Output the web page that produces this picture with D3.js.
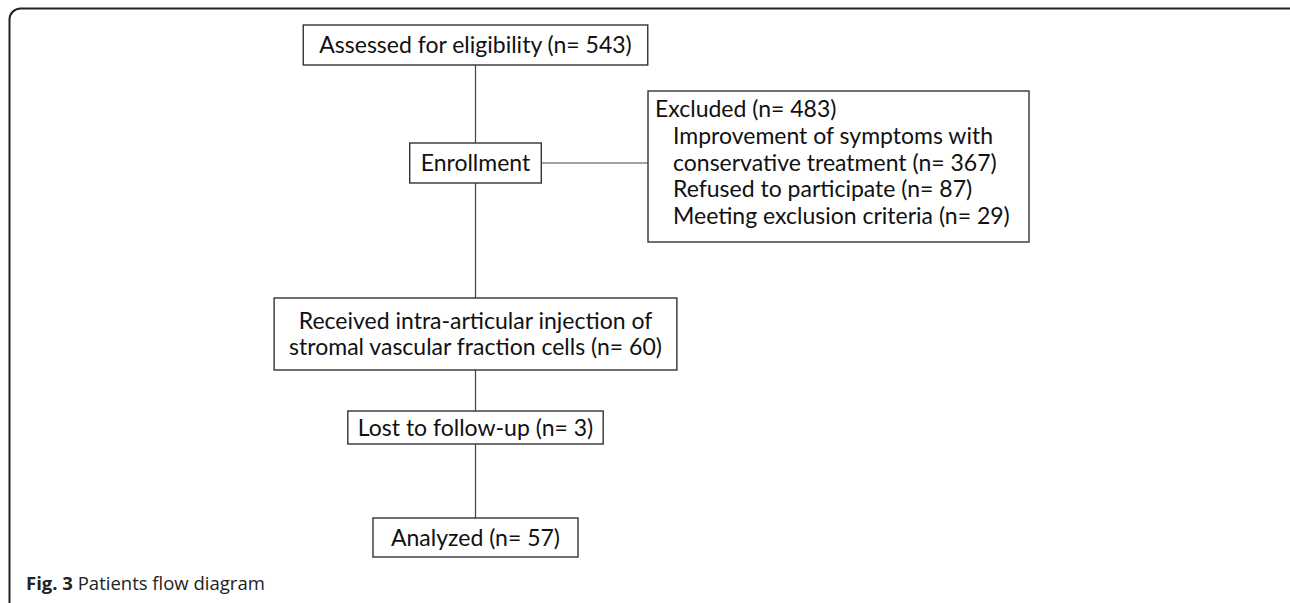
<!DOCTYPE html>
<html>
<head>
<meta charset="utf-8">
<script src="https://cdn.jsdelivr.net/npm/d3@7"></script>
<style>
  body { margin: 0; background: #fff; }
  svg { display: block; }
</style>
</head>
<body>
<svg></svg>
<script>
// flow stages (main column)
const stageLabels = [
    ['Assessed for eligibility (n= 543)'],
    ['Enrollment'],
    ['Received intra-articular injection of', 'stromal vascular fraction cells (n= 60)'],
    ['Lost to follow-up (n= 3)'],
    ['Analyzed (n= 57)']
];
const stageN = [543, null, 60, 3, 57];

// excluded side box
const excludedTotal = 483;
const excludedReasons = ['Improvement of symptoms with', 'conservative treatment (n= 367)', 'Refused to participate (n= 87)', 'Meeting exclusion criteria (n= 29)'];
const excludedN = [367, 87, 29];

const caption = ['Fig. 3', 'Patients flow diagram'];

let width = 1290;
let height = 603;
let fontSize = 23;
let lineH = 26.8;

let svg = d3.select('svg')
            .attr('width', width)
            .attr('height', height);

// outer frame, cut off at right and bottom like the source
svg.append('rect')
    .attr('x', 9.5)
    .attr('y', 8.5)
    .attr('width', 1290)
    .attr('height', 605)
    .attr('rx', 11)
    .attr('fill', 'none')
    .attr('stroke', '#222')
    .attr('stroke-width', 2);

// vertical layout of the rows (box top, box bottom)
const rowTop = [25, 143, 298, 411, 518];
const rowBottom = [65, 183, 370, 444, 557];
let cx = 475.5;

let y = d3.scaleOrdinal().domain(d3.range(stageLabels.length)).range(rowTop);
let yb = d3.scaleOrdinal().domain(d3.range(stageLabels.length)).range(rowBottom);

let lines = svg.append('g');
let boxes = svg.append('g');

// measure text width
let measure = svg.append('text')
    .attr('font-family', 'Lato, sans-serif')
    .attr('font-size', fontSize);
function textW(s) {
    measure.text(s);
    return measure.node().getComputedTextLength();
}

let pads = [16, 11, 15, 10, 18];

let nodes = stageLabels.map((lab, i) => {
    let w = d3.max(lab.map(textW)) + pads[i] * 2;
    return {i: i, lab: lab, x0: cx - w / 2, x1: cx + w / 2, y0: y(i), y1: yb(i)};
});
measure.remove();

// main spine
lines.append('line')
    .attr('x1', cx).attr('x2', cx)
    .attr('y1', nodes[0].y1).attr('y2', nodes[4].y0)
    .attr('stroke', '#444')
    .attr('stroke-width', 1.2);

let g = boxes.selectAll('g.node').data(nodes).enter()
    .append('g').attr('class', 'node');

g.append('rect')
    .attr('x', d => d.x0)
    .attr('y', d => d.y0)
    .attr('width', d => d.x1 - d.x0)
    .attr('height', d => d.y1 - d.y0)
    .attr('fill', '#fff')
    .attr('stroke', '#333')
    .attr('stroke-width', 1.4);

g.each(function (d) {
    let mid = (d.y0 + d.y1) / 2;
    let n = d.lab.length;
    d3.select(this).selectAll('text').data(d.lab).enter()
        .append('text')
        .attr('x', cx)
        .attr('y', (t, k) => mid + (k - (n - 1) / 2) * lineH)
        .attr('dy', '0.35em')
        .attr('text-anchor', 'middle')
        .attr('font-family', 'Lato, sans-serif')
        .attr('font-size', fontSize)
        .attr('fill', '#111')
        .text(t => t);
});

// excluded box
let ex = {x0: 648, x1: 1029, y0: 91, y1: 242};
let enr = nodes[1];
lines.append('line')
    .attr('x1', enr.x1).attr('x2', ex.x0)
    .attr('y1', (enr.y0 + enr.y1) / 2).attr('y2', (enr.y0 + enr.y1) / 2)
    .attr('stroke', '#444')
    .attr('stroke-width', 1.2);

let exg = boxes.append('g');
exg.append('rect')
    .attr('x', ex.x0)
    .attr('y', ex.y0)
    .attr('width', ex.x1 - ex.x0)
    .attr('height', ex.y1 - ex.y0)
    .attr('fill', '#fff')
    .attr('stroke', '#333')
    .attr('stroke-width', 1.4);

let exLines = [`Excluded (n= ${excludedTotal})`].concat(excludedReasons);
exg.selectAll('text').data(exLines).enter()
    .append('text')
    .attr('x', (t, k) => k === 0 ? ex.x0 + 7 : ex.x0 + 25)
    .attr('y', (t, k) => ex.y0 + 18 + k * lineH)
    .attr('dy', '0.35em')
    .attr('font-family', 'Lato, sans-serif')
    .attr('font-size', fontSize)
    .attr('fill', '#111')
    .text(t => t);

// caption
let cap = svg.append('text')
    .attr('x', 26)
    .attr('y', 590)
    .attr('font-family', '"Open Sans", sans-serif')
    .attr('font-size', 18.5)
    .attr('fill', '#222');
cap.append('tspan').attr('font-weight', 'bold').text(caption[0]);
cap.append('tspan').text(' ' + caption[1]);
</script>
</body>
</html>
